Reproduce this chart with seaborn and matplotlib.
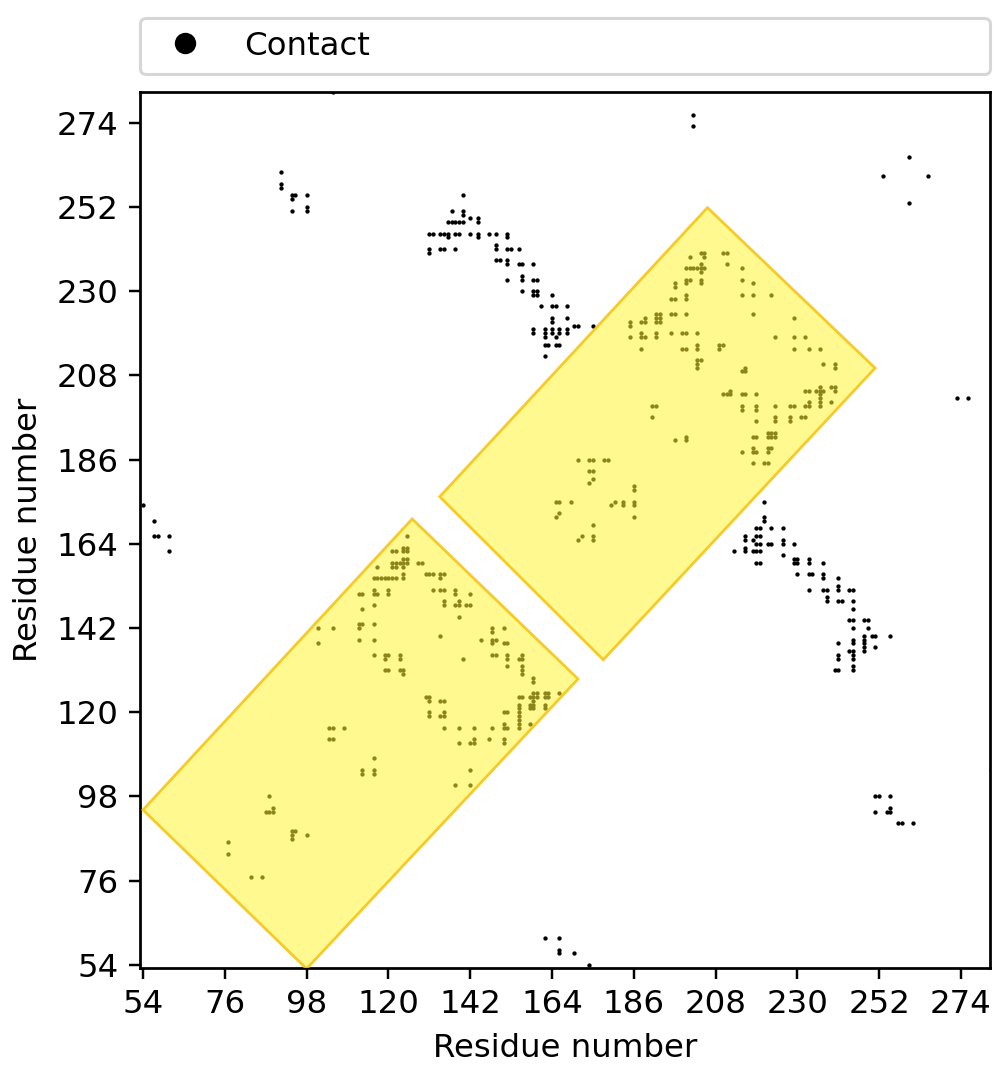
import numpy as np
import pandas as pd
import matplotlib
matplotlib.use("Agg")
import matplotlib.pyplot as plt
import seaborn as sns
from matplotlib.patches import Polygon
from matplotlib.lines import Line2D

# ---- contact pairs (upper triangle, residue i < residue j); map is symmetric ----
cluster_a_i = [91, 91, 91, 94, 95, 94, 98, 94, 98, 98]
cluster_a_j = [261, 258, 257, 255, 255, 254, 255, 251, 252, 251]

far_i = [105, 202, 202, 260, 253, 54, 57, 57, 58, 61, 61]
far_j = [282, 276, 273, 265, 260, 174, 170, 166, 166, 166, 162]

cluster_b_i = [140,
               137, 140, 140,
               136, 137, 138, 139, 140, 142, 144, 144,
               131, 132, 134, 135, 136, 136, 138, 139, 142, 144, 144, 147, 149, 152, 152,
               131, 131, 134, 135, 138, 149, 149, 152, 153, 155,
               149, 150, 152, 152, 155, 156, 159,
               152, 156, 156, 159, 160,
               156, 159, 159, 160, 160, 164,
               161, 164, 165, 168,
               164, 164, 168,
               162, 162, 164, 164, 166, 166, 168, 168, 170, 171, 175, 159, 159,
               162, 162, 163, 165, 166, 165,
               162]
cluster_b_j = [255,
               251, 251, 250,
               248, 248, 248, 248, 248, 249, 249, 248,
               245, 245, 245, 245, 245, 244, 245, 245, 245, 245, 244, 245, 245, 245, 244,
               241, 240, 241, 241, 241, 242, 241, 241, 241, 241,
               238, 238, 238, 237, 237, 237, 237,
               233, 234, 233, 233, 233,
               230, 230, 229, 230, 229, 229,
               226, 226, 226, 226,
               223, 222, 223,
               220, 219, 220, 219, 220, 219, 220, 219, 221, 221, 221, 220, 219,
               218, 216, 216, 218, 216, 216,
               213]

domain2_i = [201, 204, 205, 205, 210, 211, 211,
             200, 201, 202, 203, 204, 204, 205, 204, 215,
             200, 201, 200, 204, 204, 197, 197, 215, 218,
             196, 197, 200, 200, 215, 218, 223,
             196, 197, 200, 218,
             192, 193, 192, 193, 192, 193,
             189, 189, 188,
             185, 185, 185, 188, 188, 189, 192, 192, 196, 199, 200, 203,
             188, 199, 200, 203, 203, 209, 210, 209,
             203, 203, 204, 203,
             191, 192, 191,
             179,
             171, 174, 175, 178, 174, 175, 174, 175,
             165, 166, 169, 165, 166]
domain2_j = [239, 240, 240, 239, 240, 240, 237,
             236, 236, 236, 236, 237, 236, 236, 235, 236,
             233, 233, 232, 233, 232, 232, 231, 233, 232,
             228, 228, 229, 228, 229, 229, 229,
             224, 224, 224, 224,
             224, 224, 223, 223, 222, 222,
             223, 222, 222,
             222, 221, 218, 219, 218, 218, 219, 218, 219, 219, 219, 219,
             215, 215, 215, 216, 215, 216, 216, 215,
             212, 211, 212, 210,
             200, 200, 197,
             186,
             186, 186, 186, 186, 183, 183, 180, 181,
             175, 175, 175, 171, 172]

domain1_i = [125,
             121, 122, 124, 124, 125, 125,
             117, 121, 121, 122, 122, 123, 124, 124, 125, 125, 124, 128, 129,
             130,
             116, 117, 118, 119, 120, 121, 122, 124, 124,
             116, 117, 116, 120, 120,
             112, 113,
             113, 116,
             101, 105, 101,
             112, 112, 113, 116,
             112, 116,
             116, 119, 119, 120, 123, 123,
             119, 120, 123, 124, 124,
             104, 105, 108, 104, 105,
             131, 132, 134, 134, 135,
             132, 134, 135, 138, 138, 142,
             135, 135, 138, 139, 139, 141, 142,
             139, 134,
             88, 87, 88, 89, 89,
             77, 77]
domain1_j = [166,
             162, 162, 163, 162, 163, 162,
             158, 159, 158, 159, 158, 159, 160, 159, 160, 159, 158, 159, 159,
             156,
             155, 155, 155, 155, 155, 155, 155, 156, 155,
             152, 151, 151, 152, 151,
             151, 151,
             147, 148,
             142, 142, 138,
             143, 142, 143, 143,
             139, 139,
             135, 135, 134, 135, 135, 134,
             131, 131, 131, 131, 130,
             116, 116, 116, 113, 113,
             156, 156, 156, 155, 156,
             152, 152, 152, 152, 151, 151,
             149, 148, 148, 149, 148, 148, 148,
             145, 140,
             98, 94, 94, 95, 94,
             86, 83]

# domain boxes (corner residues) highlighted in yellow
domain_box_1 = [(54, 94.5), (98, 53), (171, 128.7), (126.4, 170.5)]
domain_box_2 = [(133.8, 176.3), (177.8, 133.7), (250.9, 209.9), (205.8, 251.8)]

tick_values = [54, 76, 98, 120, 142, 164, 186, 208, 230, 252, 274]
axis_label = "Residue number"
legend_label = "Contact"

# ---- build symmetric table ----
ci = cluster_a_i + far_i + cluster_b_i + domain2_i + domain1_i
cj = cluster_a_j + far_j + cluster_b_j + domain2_j + domain1_j
df = pd.DataFrame({"x": ci + cj, "y": cj + ci})

plt.rcParams["font.size"] = 10.6
plt.rcParams["font.family"] = ["DejaVu Sans"]

W, H, DPI = 1000, 1074, 220
fig = plt.figure(figsize=(W / DPI, H / DPI), dpi=DPI)
ax = fig.add_axes([0.140, 1 - 968 / H, 0.850, 876 / H])

sns.scatterplot(data=df, x="x", y="y", ax=ax, color="black", s=2.0,
                marker="o", linewidth=0, legend=False, zorder=2)

for box in (domain_box_1, domain_box_2):
    poly = Polygon(box, closed=True, facecolor=(1.0, 0.96, 0.2, 0.55),
                   edgecolor=(0.96, 0.76, 0.05, 0.85), linewidth=0.9, zorder=3)
    ax.add_patch(poly)

ax.set_xlim(53.2, 281.8)
ax.set_ylim(53.2, 282.0)
ax.set_xticks(tick_values)
ax.set_yticks(tick_values)
ax.set_xlabel(axis_label)
ax.set_ylabel(axis_label)
for sp in ax.spines.values():
    sp.set_linewidth(0.9)

handle = Line2D([], [], marker="o", color="black", linestyle="", markersize=6)
ax.legend(handles=[handle], labels=[legend_label], loc="lower left",
          bbox_to_anchor=(0, 1.02, 1, 0.07), mode="expand", borderaxespad=0)

fig.savefig("out.png", dpi=DPI)
